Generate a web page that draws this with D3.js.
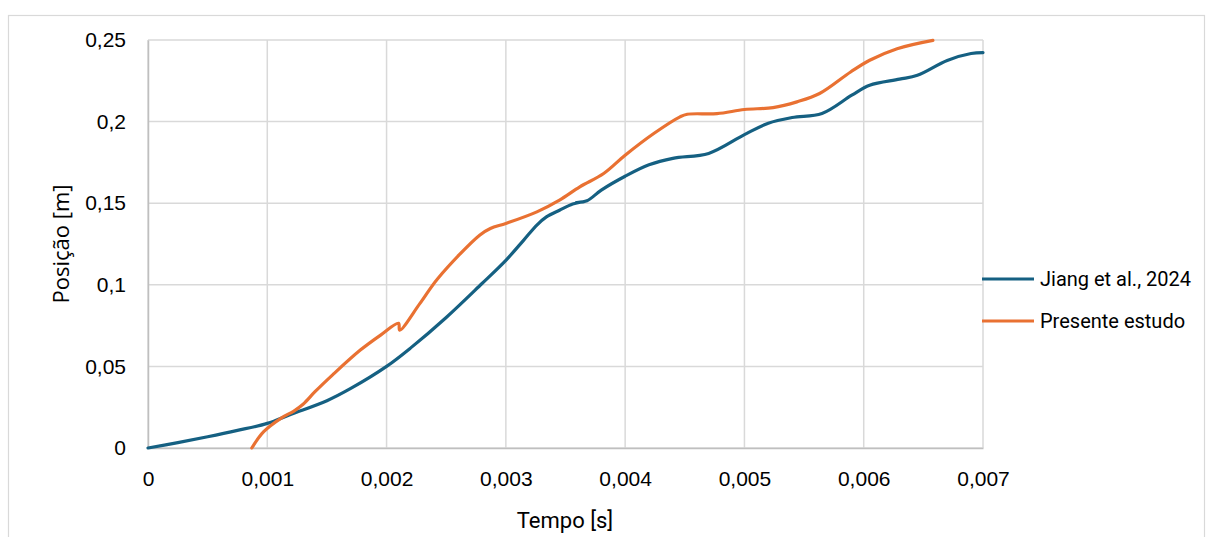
<!DOCTYPE html>
<html>
<head>
<meta charset="utf-8">
<script src="https://cdn.jsdelivr.net/npm/d3@7"></script>
<style>
  body { margin: 0; background: #fff; }
  svg { display: block; }
</style>
</head>
<body>
<svg></svg>
<script>
var width = 1206;
var height = 537;

// Jiang et al., 2024 : [tempo s, posicao m]
var jiang = [
  [0, 0], [0.00025, 0.0033], [0.0005, 0.0069], [0.00075, 0.0108], [0.001, 0.0151],
  [0.0012, 0.0207], [0.0015, 0.0290], [0.0017, 0.0365], [0.002, 0.0500],
  [0.0022, 0.0612], [0.0025, 0.0800], [0.0028, 0.1008], [0.003, 0.1150],
  [0.00315, 0.1274], [0.00326, 0.1366], [0.00334, 0.1416], [0.00345, 0.1457],
  [0.00356, 0.1495], [0.00364, 0.1508], [0.00359, 0.1504], [0.00368, 0.1515],
  [0.0038, 0.1580], [0.004, 0.1665],
  [0.0042, 0.1735], [0.0044, 0.1775], [0.0047, 0.1805], [0.005, 0.1920],
  [0.0052, 0.1990], [0.0054, 0.2025], [0.00565, 0.2050], [0.0059, 0.2162],
  [0.00605, 0.2223], [0.0063, 0.2260], [0.00645, 0.2284], [0.0067, 0.2375],
  [0.0069, 0.2417], [0.007, 0.2423]
];

// Presente estudo
var presente = [
  [0.00087, 0], [0.00097, 0.0100], [0.00112, 0.0185], [0.00122, 0.0225],
  [0.0013, 0.0268], [0.0014, 0.0345], [0.00155, 0.0450], [0.00178, 0.0600],
  [0.00195, 0.0692], [0.0021, 0.0764],
  [0.00211, 0.0722], [0.00228, 0.0886], [0.00243, 0.1039], [0.00278, 0.1304],
  [0.00287, 0.1345], [0.003, 0.1376], [0.00326, 0.1447], [0.00345, 0.1519],
  [0.00362, 0.1600], [0.00382, 0.1682], [0.004, 0.1794], [0.00424, 0.1927],
  [0.00446, 0.2029], [0.00452, 0.2045], [0.00477, 0.2049], [0.005, 0.2074],
  [0.00524, 0.2086], [0.00544, 0.2121], [0.00563, 0.2172], [0.00589, 0.2304],
  [0.00605, 0.2376], [0.00628, 0.2447], [0.00658, 0.2498]
];

var xTicks = [0, 0.001, 0.002, 0.003, 0.004, 0.005, 0.006, 0.007];
var yTicks = [0, 0.05, 0.1, 0.15, 0.2, 0.25];
var seriesNames = ["Jiang et al., 2024", "Presente estudo"];
var seriesColors = ["#156082", "#e97132"];

var svg = d3.select("svg")
    .attr("width", width)
    .attr("height", height);

// chart border
svg.append("rect")
    .attr("x", 8.5).attr("y", 15.5)
    .attr("width", 1196).attr("height", 540)
    .attr("fill", "none")
    .attr("stroke", "#d9d9d9")
    .attr("stroke-width", 1.2);

var x = d3.scaleLinear().domain([0, 0.007]).range([148, 983]);
var y = d3.scaleLinear().domain([0, 0.25]).range([448, 40]);

var fmt = function(d) { return String(+d.toFixed(4)).replace(".", ","); };

// grid
svg.append("g").selectAll("line")
    .data(yTicks)
  .enter().append("line")
    .attr("x1", x(0)).attr("x2", x(0.007))
    .attr("y1", d => y(d)).attr("y2", d => y(d))
    .attr("stroke", "#d9d9d9").attr("stroke-width", 1.5);

svg.append("g").selectAll("line")
    .data(xTicks)
  .enter().append("line")
    .attr("x1", d => x(d)).attr("x2", d => x(d))
    .attr("y1", y(0)).attr("y2", y(0.25))
    .attr("stroke", "#d9d9d9").attr("stroke-width", 1.5);

// axes
var xAxis = svg.append("g")
    .attr("transform", "translate(0," + y(0) + ")")
    .call(d3.axisBottom(x).tickValues(xTicks).tickFormat(fmt).tickSize(0).tickPadding(23));
var yAxis = svg.append("g")
    .attr("transform", "translate(" + x(0) + ",0)")
    .call(d3.axisLeft(y).tickValues(yTicks).tickFormat(fmt).tickSize(0).tickPadding(22));

[xAxis, yAxis].forEach(function(a) {
  a.select(".domain").attr("stroke", "#bfbfbf").attr("stroke-width", 1.5);
  a.selectAll("text")
      .attr("fill", "#000")
      .style("font-family", "Liberation Sans, Arial, sans-serif")
      .style("font-size", "21px");
});

// series
var line = d3.line()
    .x(d => x(d[0]))
    .y(d => y(d[1]))
    .curve(d3.curveCatmullRom.alpha(0.5));

[jiang, presente].forEach(function(s, i) {
  svg.append("path")
      .datum(s)
      .attr("fill", "none")
      .attr("stroke", seriesColors[i])
      .attr("stroke-width", 3.2)
      .attr("stroke-linejoin", "round")
      .attr("stroke-linecap", "round")
      .attr("d", line);
});

// axis titles
svg.append("text")
    .attr("x", 565).attr("y", 528)
    .attr("text-anchor", "middle")
    .style("font-family", "Roboto, sans-serif")
    .style("font-size", "22px")
    .text("Tempo [s]");

svg.append("text")
    .attr("transform", "translate(69,244) rotate(-90)")
    .attr("text-anchor", "middle")
    .style("font-family", "Open Sans, sans-serif")
    .style("font-size", "22px")
    .text("Posição [m]");

// legend
var legend = svg.append("g").selectAll("g")
    .data(seriesNames)
  .enter().append("g")
    .attr("transform", (d, i) => "translate(982," + (279 + i * 42) + ")");

legend.append("line")
    .attr("x1", 0).attr("x2", 52)
    .attr("stroke", (d, i) => seriesColors[i])
    .attr("stroke-width", 3.2);

legend.append("text")
    .attr("x", 58).attr("y", 7)
    .style("font-family", "Roboto, sans-serif")
    .style("font-size", "20px")
    .text(d => d);
</script>
</body>
</html>
